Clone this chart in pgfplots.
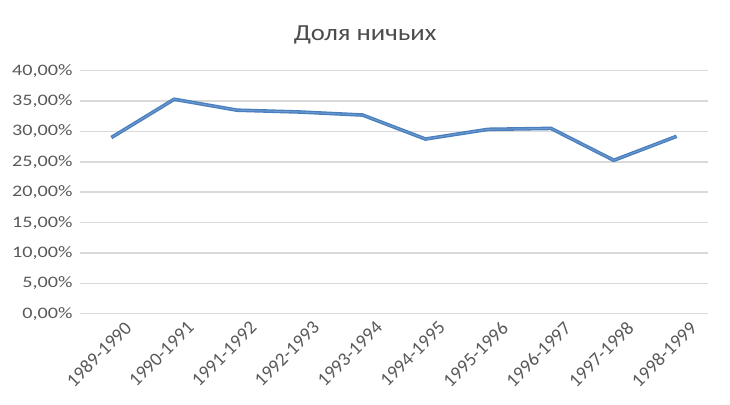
\documentclass[border=0pt]{standalone}
\usepackage{pgfplots}
\pgfplotsset{compat=1.18}
\usepackage{fontspec}
\setmainfont{Carlito}[FakeStretch=1.16]
\newfontfamily\plainfont{Carlito}
\newfontfamily\yfont{Carlito}[FakeStretch=1.26]
\definecolor{txtc}{HTML}{595959}
\definecolor{gridc}{HTML}{D9D9D9}
\definecolor{linec}{HTML}{4A7EBB}
\definecolor{lineh}{HTML}{6A9AD4}
\begin{document}
\begin{tikzpicture}
\path[use as bounding box] (0,0) rectangle (730bp,405bp);
\begin{axis}[
  at={(80bp,91.3bp)}, anchor=south west,
  scale only axis, width=628bp, height=243bp,
  xmin=-0.5, xmax=9.5, ymin=0, ymax=40,
  axis line style={draw=none},
  xtick=data,
  xticklabels={1989-1990,1990-1991,1991-1992,1992-1993,1993-1994,1994-1995,1995-1996,1996-1997,1997-1998,1998-1999},
  xticklabel style={rotate=45, anchor=north east, font=\plainfont\fontsize{19bp}{21bp}\selectfont, text=txtc, inner sep=1bp, xshift=5bp, yshift=-12bp},
  ytick={0,5,...,40},
  yticklabels={{0,00\%},{5,00\%},{10,00\%},{15,00\%},{20,00\%},{25,00\%},{30,00\%},{35,00\%},{40,00\%}},
  yticklabel style={font=\yfont\fontsize{16bp}{18bp}\selectfont, text=txtc, xshift=-4bp},
  major tick length=0pt,
  xmajorgrids=false, ymajorgrids=true,
  grid style={draw=gridc, line width=1.5bp},
  title={Доля ничьих},
  title style={font=\fontsize{23bp}{26bp}\selectfont, text=txtc!85!black, at={(0.454,1)}, yshift=17bp},
]
\addplot[linec, line width=3.6bp, line join=round] coordinates {
(0,29.0) (1,35.3) (2,33.5) (3,33.2) (4,32.7) (5,28.75) (6,30.35) (7,30.5) (8,25.25) (9,29.2)
};
\addplot[lineh, line width=1.0bp, line join=round] coordinates {
(0,29.0) (1,35.3) (2,33.5) (3,33.2) (4,32.7) (5,28.75) (6,30.35) (7,30.5) (8,25.25) (9,29.2)
};
\end{axis}
\end{tikzpicture}
\end{document}
